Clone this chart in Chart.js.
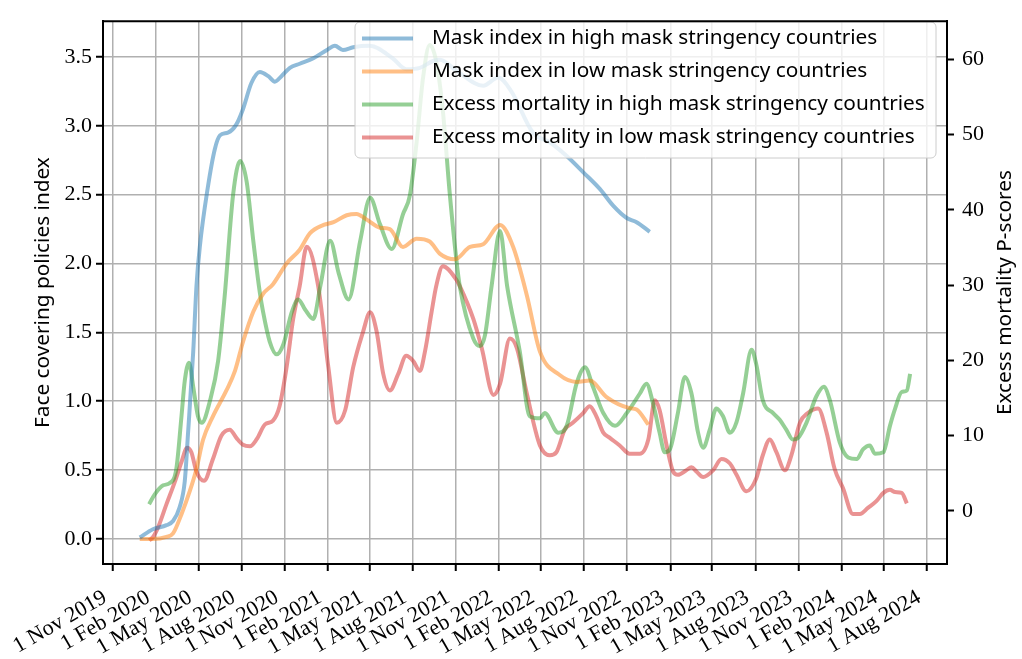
<!DOCTYPE html>
<html>
<head>
<meta charset="utf-8">
<script src="https://cdn.jsdelivr.net/npm/chart.js@4.4.1/dist/chart.umd.min.js"></script>
<style>
  html, body { margin: 0; padding: 0; background: #fff; }
  #wrap { width: 1022px; height: 659px; }
</style>
</head>
<body>
<div id="wrap"><canvas id="chart"></canvas></div>
<script>
// quarterly tick dates on the x axis
const tickDates = ['2019-11-01','2020-02-01','2020-05-01','2020-08-01','2020-11-01','2021-02-01','2021-05-01','2021-08-01',
  '2021-11-01','2022-02-01','2022-05-01','2022-08-01','2022-11-01','2023-02-01','2023-05-01','2023-08-01',
  '2023-11-01','2024-02-01','2024-05-01','2024-08-01'];
const leftTicks = [0, 0.5, 1, 1.5, 2, 2.5, 3, 3.5];
const rightTicks = [0, 10, 20, 30, 40, 50, 60];

const seriesLabels = [
  'Mask index in high mask stringency countries',
  'Mask index in low mask stringency countries',
  'Excess mortality in high mask stringency countries',
  'Excess mortality in low mask stringency countries'
];

// face covering index, high stringency
const maskHighDates = ['2019-12-28','2020-01-25','2020-02-23','2020-03-08','2020-03-22','2020-04-02','2020-04-09','2020-04-20',
  '2020-04-27','2020-05-04','2020-05-21','2020-06-05','2020-06-16','2020-07-03','2020-07-21','2020-08-04','2020-08-22',
  '2020-09-09','2020-09-27','2020-10-11','2020-10-25','2020-11-12','2020-12-03','2021-01-01','2021-01-30','2021-02-16',
  '2021-03-05','2021-03-27','2021-05-01','2021-06-19','2021-07-18','2021-08-16','2021-09-13','2021-09-28','2021-11-02',
  '2021-12-29','2022-01-30','2022-02-27','2022-04-14','2022-05-20','2022-06-25','2022-07-31','2022-09-04','2022-10-02',
  '2022-10-31','2022-11-21','2022-12-19'];
const maskHighValues = [0.01,0.07,0.10,0.13,0.23,0.42,0.77,1.36,
  1.84,2.12,2.55,2.83,2.93,2.95,3.01,3.12,3.31,
  3.39,3.36,3.32,3.36,3.42,3.45,3.49,3.55,3.58,
  3.55,3.57,3.58,3.49,3.41,3.42,3.47,3.48,3.40,
  3.29,3.35,3.25,2.95,2.88,2.78,2.66,2.54,2.42,
  2.33,2.30,2.23];

// face covering index, low stringency
const maskLowDates = ['2019-12-28','2020-01-25','2020-02-23','2020-03-08','2020-03-26','2020-04-13','2020-04-27','2020-05-11',
  '2020-06-01','2020-06-30','2020-07-18','2020-08-04','2020-08-26','2020-09-16','2020-10-07','2020-11-05','2020-12-03',
  '2020-12-25','2021-01-23','2021-02-13','2021-03-13','2021-04-03','2021-04-24','2021-05-23','2021-06-13','2021-07-11',
  '2021-08-09','2021-09-06','2021-09-28','2021-10-30','2021-12-01','2021-12-29','2022-02-03','2022-03-03','2022-04-01',
  '2022-04-29','2022-06-10','2022-07-16','2022-08-13','2022-09-18','2022-11-06','2022-11-21','2022-12-16'];
const maskLowValues = [0.0,0.0,0.015,0.04,0.18,0.35,0.51,0.72,
  0.89,1.08,1.22,1.43,1.65,1.78,1.85,2.00,2.10,
  2.22,2.28,2.30,2.35,2.36,2.32,2.26,2.25,2.12,
  2.18,2.16,2.07,2.03,2.12,2.14,2.28,2.12,1.77,
  1.36,1.19,1.14,1.15,1.03,0.95,0.94,0.83];

// excess mortality P-scores, high stringency
const mortHighDates = ['2020-01-17','2020-01-29','2020-02-16','2020-03-01','2020-03-15','2020-03-26','2020-04-02','2020-04-11',
  '2020-04-20','2020-04-30','2020-05-08','2020-05-26','2020-06-12','2020-06-26','2020-07-14','2020-07-29','2020-08-12',
  '2020-08-26','2020-09-09','2020-09-16','2020-09-30','2020-10-15','2020-10-29','2020-11-16','2020-11-30','2020-12-14',
  '2021-01-01','2021-01-16','2021-02-06','2021-02-24','2021-03-17','2021-04-11','2021-05-02','2021-05-23','2021-06-17',
  '2021-07-11','2021-07-26','2021-08-09','2021-08-23','2021-09-06','2021-09-20','2021-10-04','2021-10-19','2021-11-02',
  '2021-11-09','2021-12-08','2021-12-22','2022-01-02','2022-01-16','2022-02-03','2022-02-18','2022-03-17','2022-04-07',
  '2022-04-29','2022-05-09','2022-06-07','2022-06-25','2022-07-16','2022-08-03','2022-08-20','2022-09-11','2022-10-06',
  '2022-10-31','2022-11-28','2022-12-12','2022-12-26','2023-01-09','2023-01-20','2023-01-31','2023-02-17','2023-03-04',
  '2023-03-18','2023-04-01','2023-04-12','2023-04-26','2023-05-10','2023-05-24','2023-06-08','2023-06-22','2023-07-06',
  '2023-07-24','2023-08-03','2023-08-17','2023-09-08','2023-09-22','2023-10-06','2023-10-20','2023-10-31','2023-11-18',
  '2023-12-09','2023-12-25','2024-01-07','2024-01-28','2024-02-15','2024-03-04','2024-03-18','2024-04-01','2024-04-12',
  '2024-04-30','2024-05-14','2024-05-25','2024-06-08','2024-06-19','2024-06-26'];
const mortHighValues = [0.9,2.2,3.4,3.7,5.6,12.6,17.3,19.7,
  16.5,12.6,11.7,14.7,19.9,28.5,42.0,46.5,43.7,
  35.9,29.0,26.4,22.5,20.8,22.1,26.4,28.1,26.8,
  25.5,29.9,35.9,31.6,28.1,35.9,41.6,38.1,34.8,
  39.4,42.0,48.9,57.6,61.9,59.7,53.2,42.0,33.3,
  29.9,22.9,21.9,23.4,29.9,37.2,29.9,21.2,12.6,
  12.3,13.0,10.4,11.3,16.9,19.1,16.5,13.0,11.3,
  13.0,15.6,16.9,14.3,10.4,7.8,8.2,13.0,17.8,
  15.6,10.4,8.4,10.8,13.6,12.6,10.4,11.8,15.6,
  21.4,19.5,14.7,13.0,12.1,10.8,9.5,9.7,11.7,
  15.2,16.5,14.7,9.1,7.1,6.9,8.2,8.7,7.6,
  7.8,11.3,13.6,15.8,16.0,18.2];

// excess mortality P-scores, low stringency
const mortLowDates = ['2020-01-17','2020-01-25','2020-02-05','2020-02-23','2020-03-12','2020-03-26','2020-04-07','2020-04-16',
  '2020-04-27','2020-05-13','2020-06-01','2020-06-19','2020-07-07','2020-07-21','2020-08-04','2020-08-19','2020-09-02',
  '2020-09-20','2020-10-07','2020-10-21','2020-11-05','2020-11-19','2020-12-03','2020-12-18','2021-01-11','2021-02-02',
  '2021-02-20','2021-03-10','2021-03-27','2021-04-17','2021-05-02','2021-05-16','2021-05-30','2021-06-13','2021-07-01',
  '2021-07-18','2021-08-02','2021-08-16','2021-08-27','2021-09-10','2021-09-20','2021-10-04','2021-11-02','2021-11-09',
  '2021-12-08','2021-12-26','2022-01-20','2022-02-03','2022-02-24','2022-03-11','2022-04-01','2022-04-29','2022-05-20',
  '2022-06-03','2022-06-21','2022-07-08','2022-07-30','2022-08-13','2022-08-27','2022-09-11','2022-09-25','2022-10-16',
  '2022-11-06','2022-11-28','2022-12-16','2022-12-30','2023-01-09','2023-01-24','2023-02-07','2023-02-17','2023-03-07',
  '2023-03-18','2023-03-29','2023-04-12','2023-05-03','2023-05-21','2023-06-08','2023-06-22','2023-07-13','2023-08-03',
  '2023-08-17','2023-09-01','2023-09-15','2023-10-03','2023-10-17','2023-11-04','2023-11-21','2023-12-13','2023-12-31',
  '2024-01-17','2024-02-04','2024-02-25','2024-03-11','2024-03-28','2024-04-15','2024-04-30','2024-05-14','2024-05-25',
  '2024-06-08','2024-06-19'];
const mortLowValues = [-3.9,-3.5,-2.2,0.9,3.9,6.5,8.4,7.8,
  5.2,4.0,6.9,10.0,10.8,9.7,8.8,8.6,9.5,
  11.5,12.0,13.9,19.1,25.5,29.9,35.1,30.0,19.1,
  11.7,13.4,19.1,23.8,26.4,23.8,18.2,16.0,18.2,
  20.6,19.9,18.6,21.2,26.4,29.9,32.5,30.7,29.9,
  25.5,21.6,15.4,16.9,22.9,21.6,15.6,8.7,7.4,
  7.8,10.8,11.7,13.0,13.9,12.6,10.4,9.7,8.7,
  7.6,7.6,9.5,14.7,13.4,8.7,5.2,4.8,5.4,
  5.8,5.2,4.5,5.4,6.9,6.3,4.8,2.6,4.3,
  7.4,9.5,7.8,5.4,7.4,11.7,13.0,13.6,10.4,
  5.6,3.0,-0.4,-0.4,0.4,1.3,2.4,2.8,2.5,
  2.4,1.0];

const monthNames = ['Jan','Feb','Mar','Apr','May','Jun','Jul','Aug','Sep','Oct','Nov','Dec'];
const origin = Date.UTC(2019, 10, 1);
function toDay(s) {
  const p = s.split('-').map(Number);
  return (Date.UTC(p[0], p[1] - 1, p[2]) - origin) / 86400000;
}
function fmtDate(s) {
  const p = s.split('-').map(Number);
  return p[2] + ' ' + monthNames[p[1] - 1] + ' ' + p[0];
}
function points(dates, values) {
  return dates.map((d, i) => ({ x: toDay(d), y: values[i] }));
}

const colors = ['rgba(31,119,180,0.5)', 'rgba(255,127,14,0.5)', 'rgba(44,160,44,0.5)', 'rgba(214,39,40,0.5)'];
const serif = '"Liberation Serif", "DejaVu Serif", serif';
const sans = '"Noto Sans", "DejaVu Sans", sans-serif';
const rightTitle = 'Excess mortality P-scores';

function mkSet(i, data, axis) {
  return {
    label: seriesLabels[i],
    data: data,
    yAxisID: axis,
    borderColor: colors[i],
    backgroundColor: colors[i],
    borderWidth: 4,
    pointRadius: 0,
    fill: false,
    cubicInterpolationMode: 'monotone'
  };
}

// legend inside the plot, top spine, right title read bottom-to-top,
// and the rotated date labels hung from the x scale like matplotlib's autofmt_xdate
const extras = {
  id: 'extras',
  afterDatasetsDraw(chart) {
    const c = chart.ctx;
    const x0 = 355, y0 = 22, w = 581, h = 136, r = 5;
    c.save();
    c.beginPath();
    c.roundRect(x0, y0, w, h, r);
    c.fillStyle = 'rgba(255,255,255,0.8)';
    c.fill();
    c.strokeStyle = '#cccccc';
    c.lineWidth = 1;
    c.stroke();
    c.font = '20.8px ' + sans;
    c.textBaseline = 'middle';
    c.fillStyle = '#000';
    chart.data.datasets.forEach((ds, i) => {
      const y = 38.5 + i * 33;
      c.beginPath();
      c.moveTo(362, y);
      c.lineTo(413, y);
      c.strokeStyle = ds.borderColor;
      c.lineWidth = 4;
      c.stroke();
      c.fillText(ds.label, 432, y);
    });
    const a = chart.chartArea;
    c.beginPath();
    c.moveTo(a.left - 1, a.top);
    c.lineTo(a.right + 1, a.top);
    c.strokeStyle = '#000';
    c.lineWidth = 2;
    c.stroke();

    c.save();
    c.translate(1005, (a.top + a.bottom) / 2);
    c.rotate(-Math.PI / 2);
    c.textAlign = 'center';
    c.fillText(rightTitle, 0, 0);
    c.restore();

    const xs = chart.scales.x;
    c.font = '22px ' + serif;
    c.textAlign = 'right';
    c.textBaseline = 'alphabetic';
    tickDates.forEach(d => {
      const px = xs.getPixelForValue(toDay(d));
      c.save();
      c.translate(px - 5, a.bottom + 37);
      c.rotate(-Math.PI / 6);
      c.fillText(fmtDate(d), 0, 0);
      c.restore();
    });
    c.restore();
  }
};

new Chart(document.getElementById('chart'), {
  type: 'line',
  data: {
    datasets: [
      mkSet(0, points(maskHighDates, maskHighValues), 'y'),
      mkSet(1, points(maskLowDates, maskLowValues), 'y'),
      mkSet(2, points(mortHighDates, mortHighValues), 'y1'),
      mkSet(3, points(mortLowDates, mortLowValues), 'y1')
    ]
  },
  options: {
    responsive: true,
    maintainAspectRatio: false,
    animation: false,
    layout: { padding: { top: 8, left: 0, right: 0, bottom: 0 } },
    plugins: { legend: { display: false }, tooltip: { enabled: false } },
    scales: {
      x: {
        type: 'linear',
        min: -21.3,
        max: 1777.6,
        afterBuildTicks: s => { s.ticks = tickDates.map(d => ({ value: toDay(d) })); },
        afterFit: s => { s.height = 95; },
        ticks: { display: false },
        grid: { color: '#b0b0b0', lineWidth: 1.5, tickColor: '#000', tickWidth: 2, tickLength: 7 },
        border: { color: '#000', width: 2 }
      },
      y: {
        position: 'left',
        min: -0.182,
        max: 3.759,
        afterBuildTicks: s => { s.ticks = leftTicks.map(v => ({ value: v })); },
        afterFit: s => { s.width = 103; },
        ticks: { padding: 4, color: '#000', font: { family: serif, size: 22 }, callback: v => v.toFixed(1) },
        grid: { color: '#b0b0b0', lineWidth: 1.5, tickColor: '#000', tickWidth: 2, tickLength: 7 },
        border: { color: '#000', width: 2 },
        title: { display: true, text: 'Face covering policies index', color: '#000', font: { family: sans, size: 20.8 }, padding: { top: 31, bottom: 0 } }
      },
      y1: {
        position: 'right',
        min: -7.05,
        max: 65.06,
        afterBuildTicks: s => { s.ticks = rightTicks.map(v => ({ value: v })); },
        afterFit: s => { s.width = 75; },
        ticks: { padding: 8, color: '#000', font: { family: serif, size: 22 }, callback: v => String(v) },
        grid: { drawOnChartArea: false, tickColor: '#000', tickWidth: 2, tickLength: 7 },
        border: { color: '#000', width: 2 }
      }
    }
  },
  plugins: [extras]
});
</script>
</body>
</html>
